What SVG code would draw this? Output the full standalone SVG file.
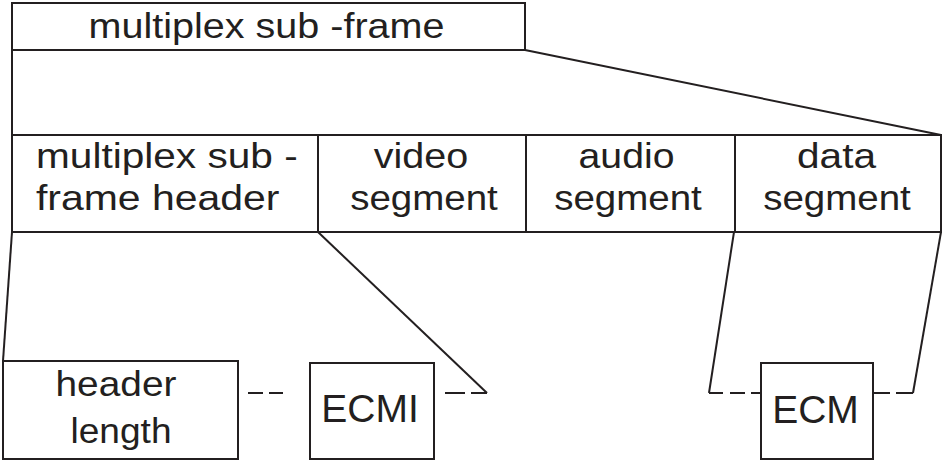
<svg xmlns="http://www.w3.org/2000/svg" width="943" height="463" viewBox="0 0 943 463">
<style>
  .box { fill: #ffffff; stroke: #231f20; stroke-width: 2; }
  .ln { fill: none; stroke: #231f20; stroke-width: 2; }
  .dash { fill: none; stroke: #231f20; stroke-width: 2; }
  .t { font-family: "Liberation Sans", Arial, Helvetica, sans-serif; font-size: 35px; fill: #231f20; text-anchor: middle; }
  .s { text-anchor: start; }
  .big { font-size: 39px; }
</style>
<rect x="0" y="0" width="943" height="463" fill="#ffffff"/>
<g id="connectors">
  <path class="ln" d="M12,50 L12,135"/>
  <path class="ln" d="M525,50 L941,135"/>
  <path class="ln" d="M12,232 L3,361"/>
  <path class="ln" d="M318,232 L487,393"/>
  <path class="ln" d="M734,232 L709,393"/>
  <path class="ln" d="M941,232 L913,393"/>
  <path class="dash" d="M248,393 L263,393 M269,393 L283,393"/>
  <path class="dash" d="M445,393 L465,393 M471,393 L487,393"/>
  <path class="dash" d="M709,393 L723,393 M730,393 L745,393 M751,393 L761,393"/>
  <path class="dash" d="M873,393 L890,393 M896,393 L913,393"/>
</g>
<g id="subframe">
  <rect class="box" x="12" y="3" width="513" height="47"/>
  <text class="t" font-size="36" transform="translate(266.5,38) scale(1.13,1)">multiplex sub -frame</text>
</g>
<g id="header">
  <rect class="box" x="12" y="135" width="306" height="97"/>
  <text class="t s" transform="translate(36,168) scale(1.16,1)">multiplex sub -</text>
  <text class="t s" transform="translate(36,210) scale(1.17,1)">frame header</text>
</g>
<g id="video">
  <rect class="box" x="318" y="135" width="208" height="97"/>
  <text class="t" transform="translate(421,168) scale(1.13,1)">video</text>
  <text class="t" transform="translate(424,210) scale(1.1,1)">segment</text>
</g>
<g id="audio">
  <rect class="box" x="526" y="135" width="209" height="97"/>
  <text class="t" transform="translate(626.5,168) scale(1.12,1)">audio</text>
  <text class="t" transform="translate(628,210) scale(1.1,1)">segment</text>
</g>
<g id="data">
  <rect class="box" x="735" y="135" width="206" height="97"/>
  <text class="t" transform="translate(836.5,168) scale(1.16,1)">data</text>
  <text class="t" transform="translate(837,210) scale(1.1,1)">segment</text>
</g>
<g id="headerlength">
  <rect class="box" x="3" y="361" width="235" height="98"/>
  <text class="t" transform="translate(116,396) scale(1.11,1)">header</text>
  <text class="t" transform="translate(121,443) scale(1.06,1)">length</text>
</g>
<g id="ecmi">
  <rect class="box" x="310" y="363" width="124" height="96"/>
  <text class="t big" x="370" y="422">ECMI</text>
</g>
<g id="ecm">
  <rect class="box" x="761" y="363" width="112" height="96"/>
  <text class="t big" x="815.5" y="423">ECM</text>
</g>
</svg>
